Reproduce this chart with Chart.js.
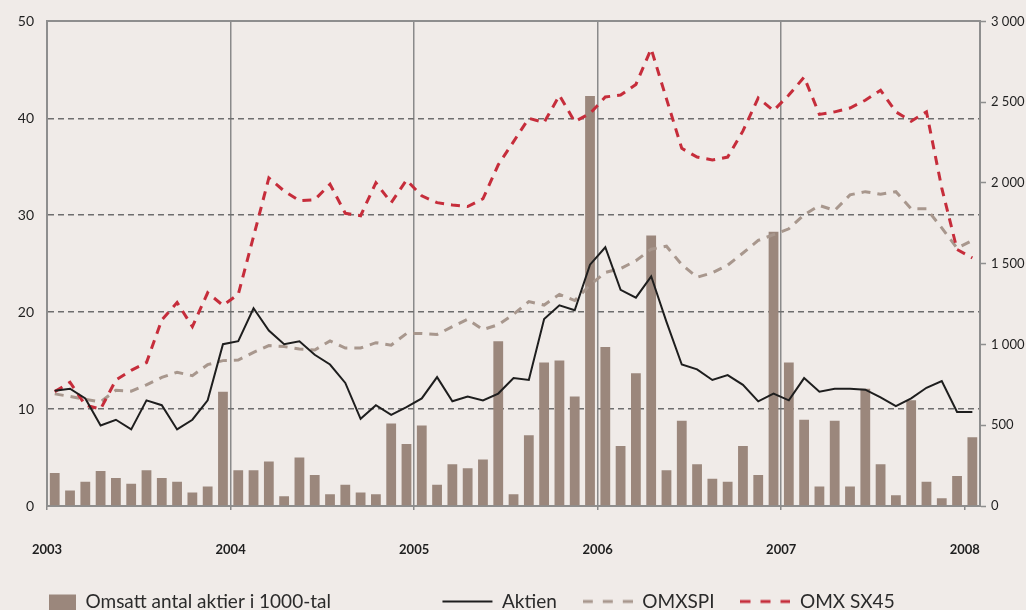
<!DOCTYPE html>
<html>
<head>
<meta charset="utf-8">
<script src="https://cdn.jsdelivr.net/npm/chart.js@4/dist/chart.umd.min.js"></script>
<style>
html, body { margin: 0; padding: 0; background: #f0ebe8; }
#wrap { width: 1026px; height: 610px; overflow: hidden; background: #f0ebe8; }
</style>
</head>
<body>
<div id="wrap"><canvas id="kursChart" width="1026" height="610"></canvas></div>
<script>
// tick labels for the year axis
var years = ['2003', '2004', '2005', '2006', '2007', '2008'];

// one category per month, jan 2003 - jan 2008
var months = [];
years.forEach(function(y) {
  for (var m = 1; m <= 12; m++) {
    if (y === '2008' && m > 1) return;
    months.push(y + '-' + (m < 10 ? '0' + m : m));
  }
});

// Omsatt antal aktier i 1000-tal (left axis)
var omsattning = [3.4, 1.6, 2.5, 3.6, 2.9, 2.3, 3.7, 2.9, 2.5, 1.4, 2.0, 11.8,
  3.7, 3.7, 4.6, 1.0, 5.0, 3.2, 1.2, 2.2, 1.4, 1.2, 8.5, 6.4,
  8.3, 2.2, 4.3, 3.9, 4.8, 17.0, 1.2, 7.3, 14.8, 15.0, 11.3, 42.3,
  16.4, 6.2, 13.7, 27.9, 3.7, 8.8, 4.3, 2.8, 2.5, 6.2, 3.2, 28.3,
  14.8, 8.9, 2.0, 8.8, 2.0, 12.1, 4.3, 1.1, 10.9, 2.5, 0.8, 3.1,
  7.1];

// Aktien, kurs (left axis)
var aktien = [11.9, 12.1, 11.1, 8.3, 8.9, 7.9, 10.9, 10.4, 7.9, 8.9, 10.9, 16.7,
  17.0, 20.4, 18.1, 16.7, 17.0, 15.6, 14.6, 12.7, 9.0, 10.4, 9.4, 10.2,
  11.1, 13.3, 10.8, 11.3, 10.9, 11.6, 13.2, 13.0, 19.3, 20.7, 20.2, 24.9,
  26.7, 22.3, 21.5, 23.7, 19.0, 14.6, 14.1, 13.0, 13.5, 12.5, 10.8, 11.6,
  10.9, 13.2, 11.8, 12.1, 12.1, 12.0, 11.2, 10.3, 11.1, 12.2, 12.9, 9.7,
  9.7];

// OMXSPI (right axis)
var omxspi = [694, 678, 660, 645, 717, 711, 750, 796, 828, 807, 875, 900,
  904, 951, 993, 987, 972, 966, 1022, 978, 978, 1011, 996, 1068,
  1068, 1062, 1110, 1156, 1092, 1122, 1187, 1265, 1244, 1310, 1272, 1368,
  1446, 1470, 1518, 1590, 1608, 1494, 1416, 1444, 1491, 1566, 1644, 1680,
  1716, 1803, 1860, 1830, 1926, 1946, 1930, 1946, 1840, 1840, 1722, 1596,
  1644];

// OMX SX45 (right axis)
var omxsx45 = [708, 766, 624, 600, 780, 840, 888, 1152, 1260, 1110, 1320, 1242,
  1310, 1668, 2031, 1950, 1890, 1896, 1992, 1812, 1797, 2001, 1878, 2018,
  1920, 1878, 1864, 1854, 1902, 2112, 2256, 2400, 2374, 2542, 2379, 2430,
  2532, 2544, 2610, 2830, 2520, 2214, 2160, 2142, 2160, 2322, 2526, 2448,
  2544, 2655, 2424, 2440, 2464, 2512, 2574, 2440, 2382, 2440, 1968, 1588,
  1536];

var barColor = '#9b877c';
var spiColor = '#a8978d';
var sxColor = '#c62d3b';
var aktColor = '#1e1e1e';
var axisColor = '#8e8e8e';

// legend symbol for the bars: a square at the right end of the symbol box
var barSwatch = document.createElement('canvas');
barSwatch.width = 50;
barSwatch.height = 42;
var sctx = barSwatch.getContext('2d');
sctx.fillStyle = barColor;
sctx.fillRect(23, 14, 27, 28);

// dashed legend symbols (the legend draws point styles without dashes)
function dashSwatch(color) {
  var c = document.createElement('canvas');
  c.width = 50;
  c.height = 6;
  var g = c.getContext('2d');
  g.strokeStyle = color;
  g.lineWidth = 3;
  g.setLineDash([10, 10]);
  g.beginPath();
  g.moveTo(0, 3);
  g.lineTo(50, 3);
  g.stroke();
  return c;
}

function spaced(v) {
  if (v < 1000) return String(v);
  var rest = String(v % 1000);
  while (rest.length < 3) rest = '0' + rest;
  return Math.floor(v / 1000) + ' ' + rest;
}

var legendBottomPad = -11;

var ctx = document.getElementById('kursChart').getContext('2d');
var kursChart = new Chart(ctx, {
  type: 'bar',
  data: {
    labels: months,
    datasets: [{
      type: 'bar',
      label: 'Omsatt antal aktier i 1000-tal',
      data: omsattning,
      backgroundColor: barColor,
      borderWidth: 0,
      barPercentage: 0.64,
      categoryPercentage: 1,
      pointStyle: barSwatch,
      xAxisID: 'x',
      yAxisID: 'y',
      order: 4
    }, {
      type: 'line',
      label: 'Aktien',
      data: aktien,
      borderColor: aktColor,
      backgroundColor: aktColor,
      borderWidth: 2,
      pointRadius: 0,
      pointStyle: 'line',
      tension: 0,
      xAxisID: 'x',
      yAxisID: 'y',
      order: 1
    }, {
      type: 'line',
      label: 'OMXSPI',
      data: omxspi,
      borderColor: spiColor,
      backgroundColor: spiColor,
      borderWidth: 3,
      borderDash: [9, 7],
      pointRadius: 0,
      pointStyle: dashSwatch(spiColor),
      tension: 0,
      xAxisID: 'x',
      yAxisID: 'y1',
      order: 3
    }, {
      type: 'line',
      label: 'OMX SX45',
      data: omxsx45,
      borderColor: sxColor,
      backgroundColor: sxColor,
      borderWidth: 3,
      borderDash: [9, 7],
      pointRadius: 0,
      pointStyle: dashSwatch(sxColor),
      tension: 0,
      xAxisID: 'x',
      yAxisID: 'y1',
      order: 2
    }]
  },
  options: {
    responsive: false,
    animation: false,
    devicePixelRatio: 1,
    layout: { padding: { top: 19, left: 0, right: 0, bottom: legendBottomPad } },
    plugins: {
      tooltip: { enabled: false },
      legend: {
        position: 'bottom',
        align: 'start',
        labels: {
          usePointStyle: true,
          pointStyleWidth: 50,
          padding: 26,
          color: '#2b2b2b',
          font: { family: 'Lato', size: 19 },
          generateLabels: function(chart) {
            var items = Chart.defaults.plugins.legend.labels.generateLabels(chart);
            // keep the legend in dataset order, not drawing order
            items.sort(function(a, b) { return a.datasetIndex - b.datasetIndex; });
            // blank item to open up the wider gap after the first entry
            items.splice(1, 0, {
              text: '',
              fillStyle: 'rgba(0,0,0,0)',
              strokeStyle: 'rgba(0,0,0,0)',
              lineWidth: 0,
              pointStyle: 'line',
              hidden: false
            });
            return items;
          }
        }
      }
    },
    scales: {
      x: {
        type: 'category',
        display: false,
        offset: true
      },
      x2: {
        type: 'linear',
        position: 'bottom',
        min: 0,
        max: months.length,
        offset: false,
        afterFit: function(s) {
          s.height = s.chart.height - legendBottomPad - s.chart.legend.height - 506;
        },
        afterBuildTicks: function(s) {
          s.ticks = years.map(function(y, i) { return { value: i * 12 }; });
        },
        grid: {
          offset: false,
          color: function(c) {
            var v = c.tick ? c.tick.value : 0;
            return (v === 0 || v === 60) ? 'rgba(0,0,0,0)' : '#8a8a8a';
          },
          lineWidth: 1.5,
          tickColor: '#8a8a8a',
          tickLength: 4
        },
        border: { color: axisColor, width: 2 },
        ticks: {
          autoSkip: false,
          maxRotation: 0,
          padding: 32,
          color: '#1f1f1f',
          font: { family: 'Lato', size: 13, weight: 'bold' },
          callback: function(v) {
            return years[Math.round(v / 12)] || '';
          }
        }
      },
      xt: {
        type: 'linear',
        position: 'top',
        offset: false,
        afterFit: function(s) { s.height = 0; },
        grid: { display: false, drawTicks: false },
        ticks: { display: false },
        border: { color: axisColor, width: 2 }
      },
      y: {
        position: 'left',
        min: 0,
        max: 50,
        afterFit: function(s) { s.width = 40; },
        ticks: {
          stepSize: 10,
          padding: 13,
          color: '#1f1f1f',
          font: { family: 'Lato', size: 14 }
        },
        grid: {
          drawTicks: false,
          color: function(c) {
            var v = c.tick ? c.tick.value : 0;
            return (v === 0 || v === 50) ? 'rgba(0,0,0,0)' : '#6e6e6e';
          },
          lineWidth: 1.5
        },
        border: { color: axisColor, width: 2, dash: [6, 4] }
      },
      y1: {
        position: 'right',
        min: 0,
        max: 3000,
        afterFit: function(s) { s.width = 46; },
        ticks: {
          stepSize: 500,
          padding: 5,
          color: '#1f1f1f',
          font: { family: 'Lato', size: 13 },
          callback: function(v) { return spaced(v); }
        },
        grid: {
          drawOnChartArea: false,
          tickLength: 6,
          tickColor: axisColor,
          tickWidth: 1.5
        },
        border: { color: axisColor, width: 2 }
      }
    }
  }
});
</script>
</body>
</html>
